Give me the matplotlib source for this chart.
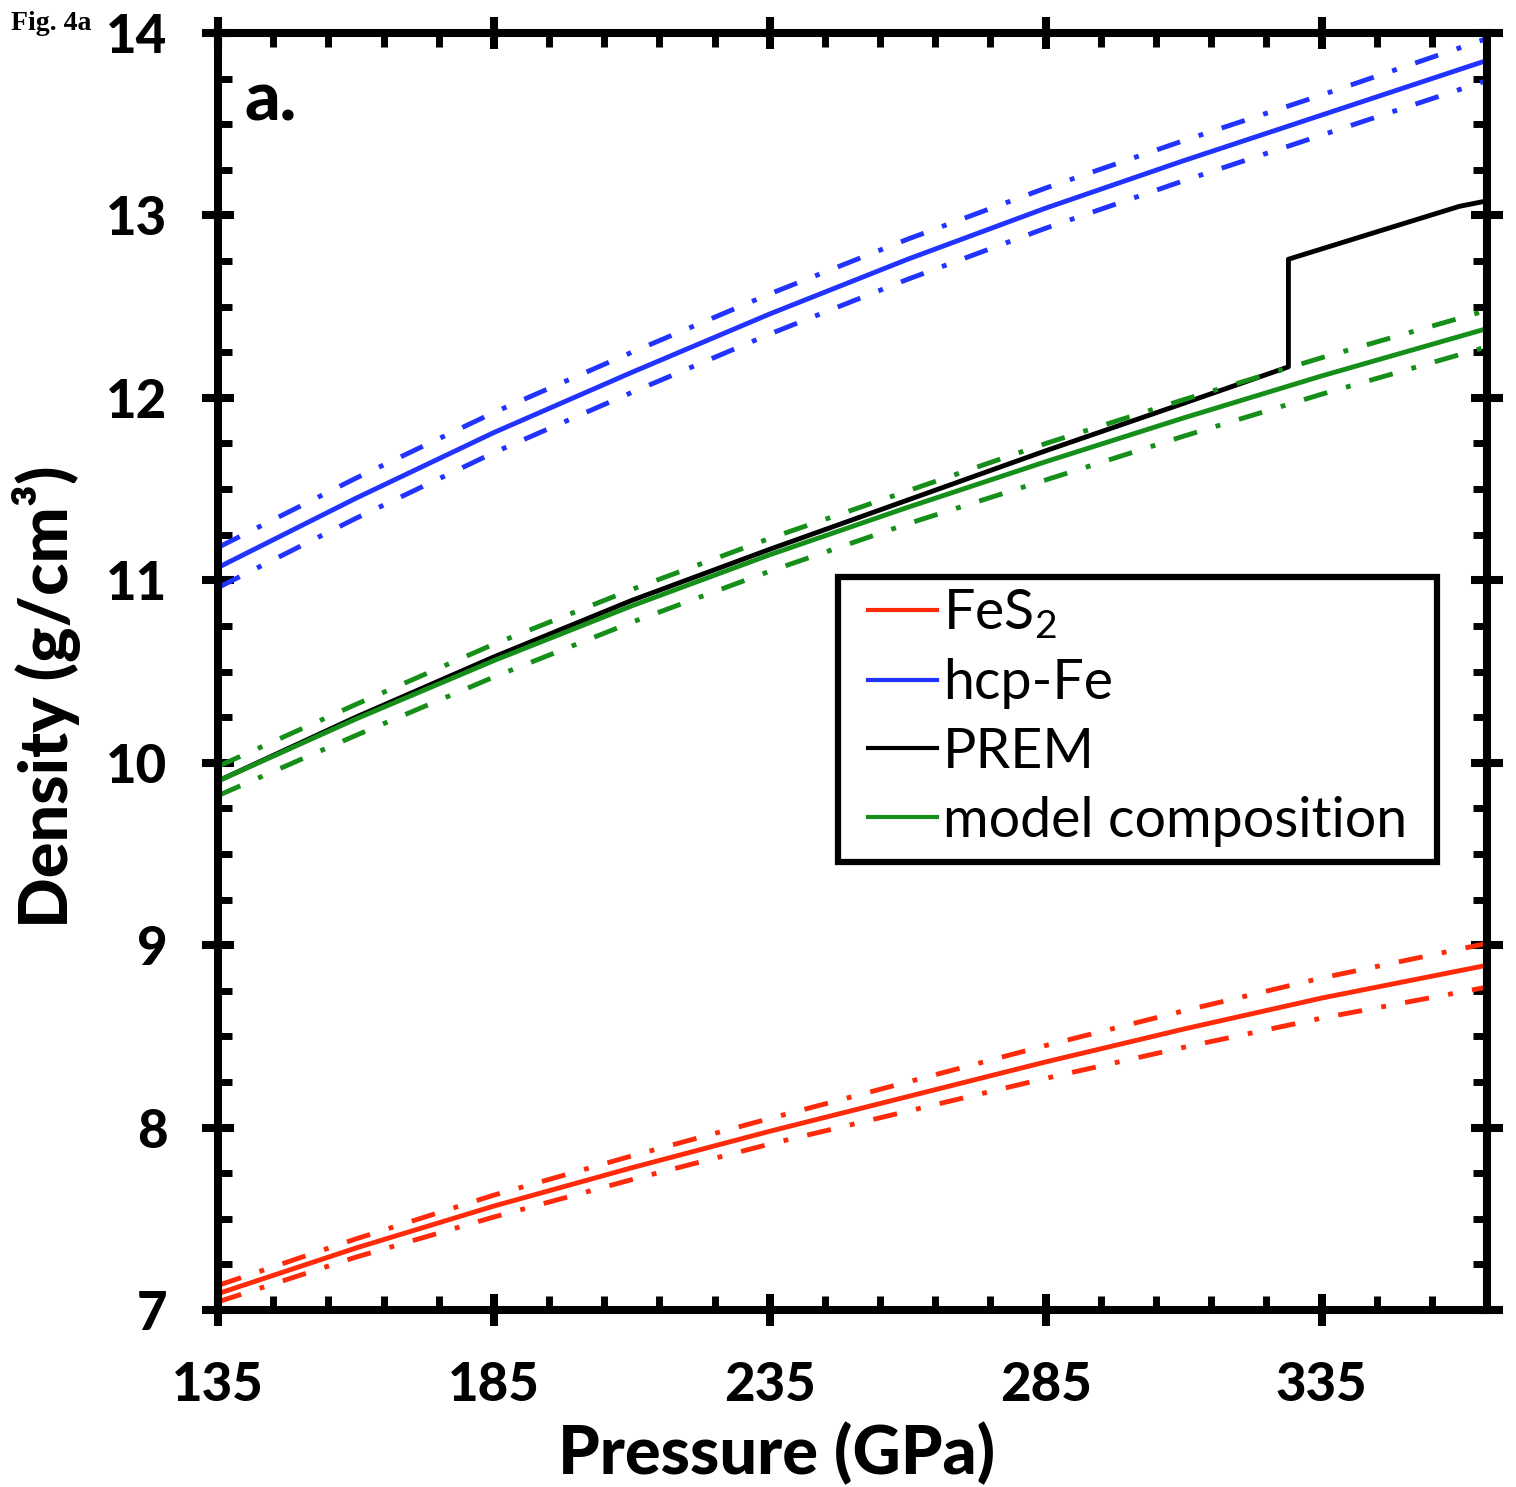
import matplotlib
matplotlib.use("Agg")
import matplotlib.pyplot as plt
from matplotlib.patches import Rectangle
from matplotlib.ticker import MultipleLocator, FixedLocator

plt.rcParams['font.family'] = ['Lato', 'DejaVu Sans']
plt.rcParams['mathtext.fontset'] = 'custom'
plt.rcParams['mathtext.rm'] = 'Lato'
plt.rcParams['mathtext.bf'] = 'Lato:bold'

# pressure grid (GPa) for the EOS curves
pressure = [135, 160, 185, 210, 235, 260, 285, 310, 335, 365]

# hcp-Fe density (g/cm3) with uncertainty envelope
fe_mid = [11.07, 11.45, 11.81, 12.14, 12.46, 12.76, 13.04, 13.30, 13.55, 13.85]
fe_hi = [11.18, 11.56, 11.92, 12.25, 12.57, 12.87, 13.15, 13.41, 13.66, 13.97]
fe_lo = [10.96, 11.34, 11.70, 12.03, 12.35, 12.65, 12.93, 13.19, 13.44, 13.74]

# FeS2
fes2_mid = [7.09, 7.34, 7.57, 7.78, 7.98, 8.17, 8.36, 8.54, 8.71, 8.89]
fes2_hi = [7.135, 7.39, 7.63, 7.845, 8.05, 8.25, 8.45, 8.64, 8.82, 9.01]
fes2_lo = [7.045, 7.29, 7.51, 7.715, 7.91, 8.09, 8.27, 8.44, 8.60, 8.77]

# model composition
model_mid = [9.90, 10.24, 10.56, 10.86, 11.14, 11.40, 11.65, 11.89, 12.12, 12.38]
model_hi = [9.98, 10.32, 10.65, 10.95, 11.23, 11.49, 11.75, 11.99, 12.22, 12.48]
model_lo = [9.82, 10.15, 10.47, 10.77, 11.05, 11.31, 11.55, 11.79, 12.02, 12.28]

# PREM outer + inner core
prem_p = [135, 160, 185, 210, 235, 260, 285, 310, 329, 329, 345, 360, 365]
prem_rho = [9.90, 10.25, 10.58, 10.89, 11.17, 11.44, 11.71, 11.97, 12.17, 12.76, 12.91, 13.05, 13.08]

RED = '#ff2a0a'
BLUE = '#2233ff'
GREEN = '#168f1a'
DASHDOT = (0, (5, 4, 1, 4))

fig = plt.figure(figsize=(15.16, 14.87), dpi=100)
ax = fig.add_axes([0.1438, 0.119, 0.8371, 0.8588])

lw = 3.5
ax.plot(pressure, fes2_mid, color=RED, lw=lw, label='FeS$_2$')
ax.plot(pressure, fe_mid, color=BLUE, lw=lw, label='hcp-Fe')
ax.plot(prem_p, prem_rho, color='black', lw=lw, label='PREM')
ax.plot(pressure, model_mid, color=GREEN, lw=lw, label='model composition')
for hi, lo, c in [(fes2_hi, fes2_lo, RED), (fe_hi, fe_lo, BLUE), (model_hi, model_lo, GREEN)]:
    ax.plot(pressure, hi, color=c, lw=lw, ls=DASHDOT)
    ax.plot(pressure, lo, color=c, lw=lw, ls=DASHDOT)

ax.set_xlim(135, 365)
ax.set_ylim(7, 14)
ax.xaxis.set_major_locator(FixedLocator([135, 185, 235, 285, 335]))
ax.xaxis.set_minor_locator(FixedLocator([p for p in range(145, 366, 10) if (p - 135) % 50]))
ax.yaxis.set_major_locator(MultipleLocator(1))
ax.yaxis.set_minor_locator(MultipleLocator(0.25))

for s in ax.spines.values():
    s.set_linewidth(5.8)
ax.tick_params(which='major', direction='inout', length=23, width=5.8,
               top=True, right=True, pad=25, labelsize=38)
ax.tick_params(which='minor', direction='in', length=10, width=5,
               top=True, right=True)
for lab in ax.get_xticklabels() + ax.get_yticklabels():
    lab.set_fontweight('black')

ax.set_xlabel('Pressure (GPa)', fontsize=48, fontweight='black')
ax.xaxis.set_label_coords(0.44, -0.088)
ax.set_ylabel('Density (g/cm³)', fontsize=48, fontweight='black')
ax.yaxis.set_label_coords(-0.108, 0.48)

ax.text(0.021, 0.947, 'a.', transform=ax.transAxes, fontsize=50,
        fontweight='black', va='center', ha='left')
fig.text(0.007, 0.984, 'Fig. 4a', fontsize=20, fontweight='bold',
         family='Liberation Serif', va='center', ha='left')

# legend box drawn separately so it can be wider than the entries
ax.add_patch(Rectangle((0.4886, 0.3508), 0.472, 0.2232, transform=ax.transAxes,
                       facecolor='white', edgecolor='black', lw=4.5, zorder=4))
leg = ax.legend(loc='upper left', bbox_to_anchor=(0.512, 0.566), fontsize=40,
                handlelength=1.25, handletextpad=0.1, labelspacing=0.32,
                borderpad=0, borderaxespad=0, frameon=False)
leg.set_zorder(5)
for h in leg.get_lines():
    h.set_linewidth(3.0)

fig.savefig('out.png', dpi=100)
